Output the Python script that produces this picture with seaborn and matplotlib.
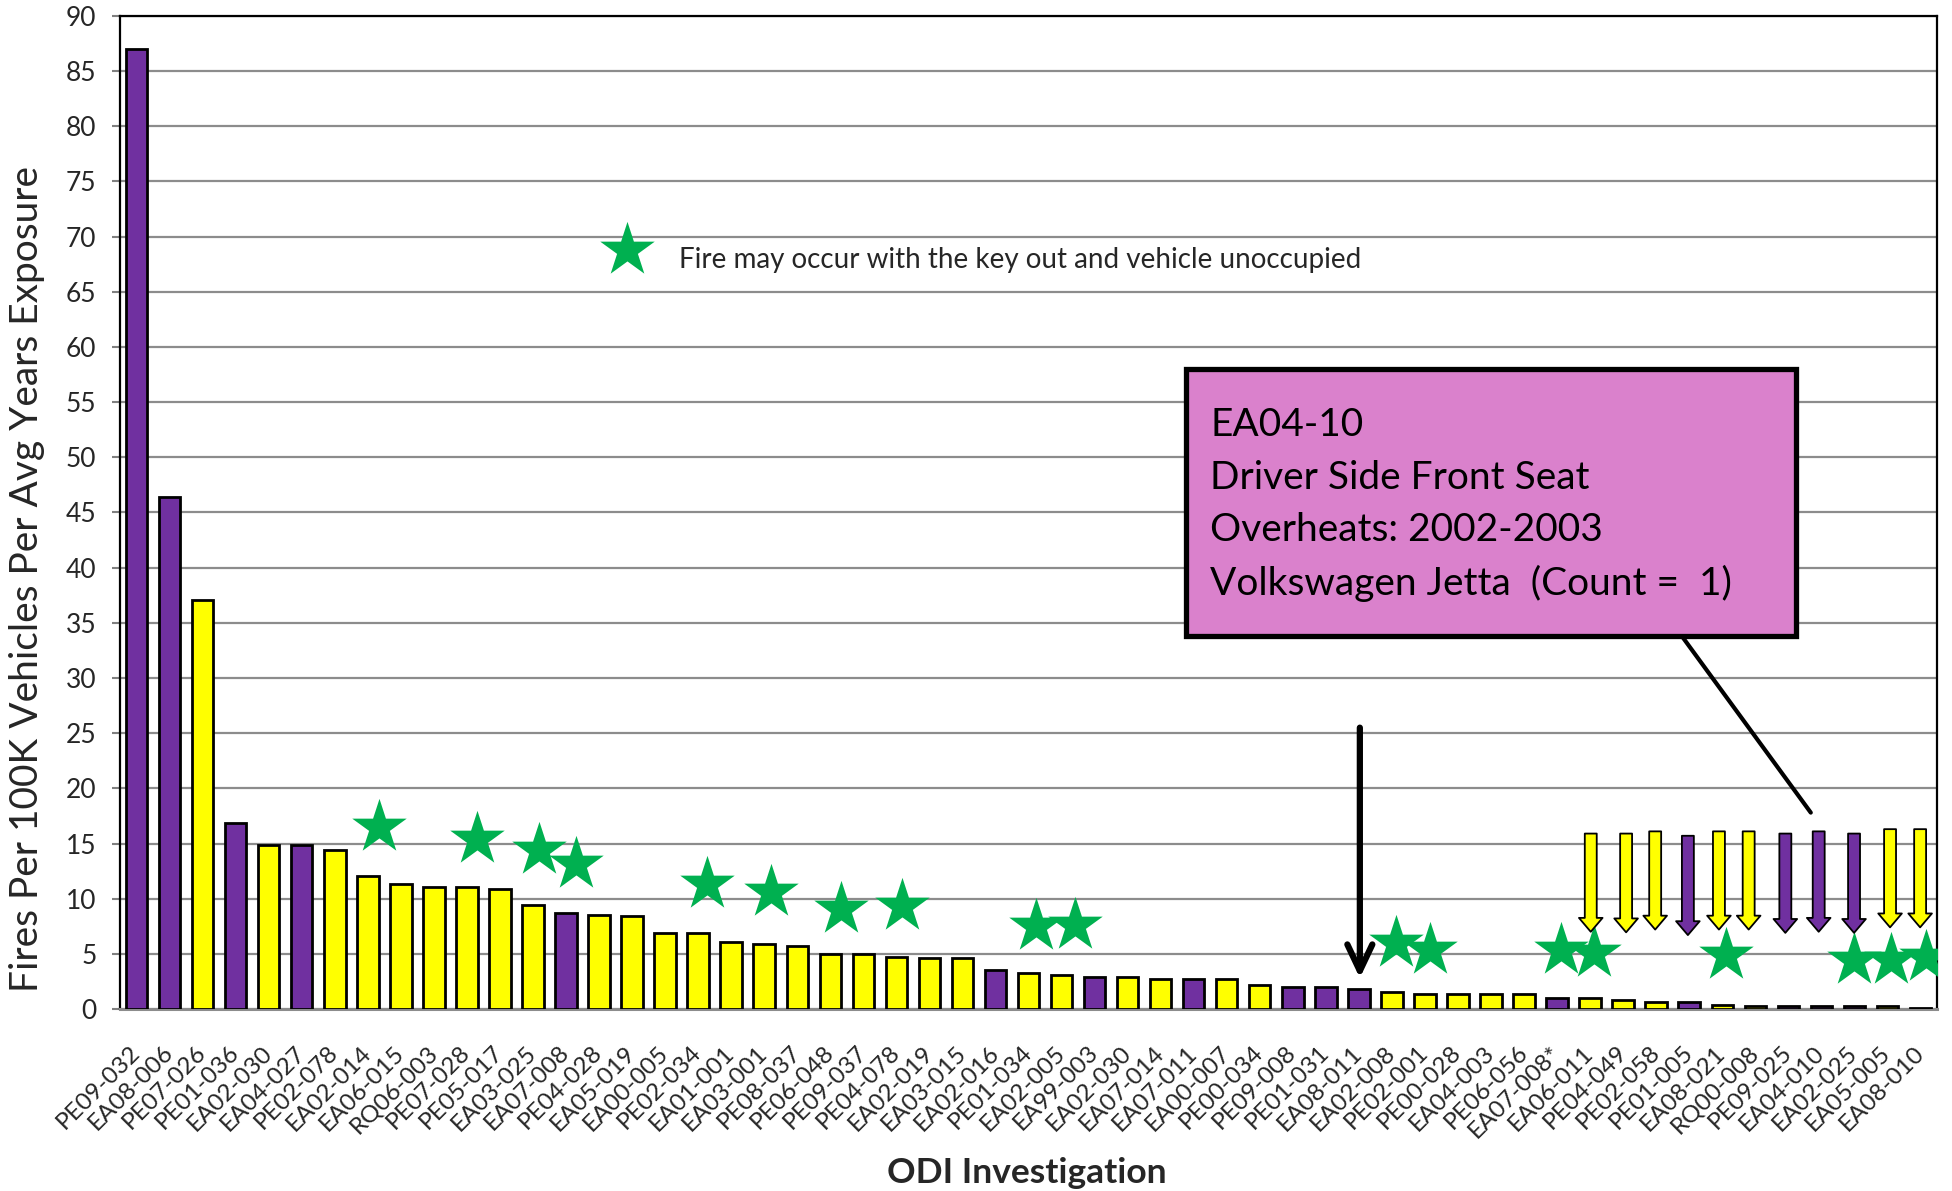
import numpy as np
import pandas as pd
import seaborn as sns
import matplotlib as mpl

mpl.use("Agg")

import matplotlib.pyplot as plt
from matplotlib.patches import Rectangle


investigations = [
    "PE09-032", "EA08-006", "PE07-026", "PE01-036", "EA02-030", "EA04-027",
    "PE02-078", "EA02-014", "EA06-015", "RQ06-003", "PE07-028", "PE05-017",
    "EA03-025", "EA07-008", "PE04-028", "EA05-019", "EA00-005", "PE02-034",
    "EA01-001", "EA03-001", "PE08-037", "PE06-048", "PE09-037", "PE04-078",
    "EA02-019", "EA03-015", "EA02-016", "PE01-034", "EA02-005", "EA99-003",
    "EA02-030", "EA07-014", "EA07-011", "EA00-007", "PE00-034", "PE09-008",
    "PE01-031", "EA08-011", "EA02-008", "PE02-001", "PE00-028", "EA04-003",
    "PE06-056", "EA07-008*", "EA06-011", "PE04-049", "PE02-058", "PE01-005",
    "EA08-021", "RQ00-008", "PE09-025", "EA04-010", "EA02-025", "EA05-005",
    "EA08-010",
]
fire_rates = [
    87.0, 46.4, 37.1, 16.9, 14.9, 14.9, 14.4, 12.1, 11.3, 11.1, 11.1, 10.9,
    9.4, 8.7, 8.5, 8.4, 6.9, 6.9, 6.05, 5.9, 5.7, 4.95, 4.95, 4.75,
    4.65, 4.65, 3.5, 3.25, 3.1, 2.9, 2.9, 2.75, 2.75, 2.75, 2.2, 2.0,
    2.0, 1.8, 1.55, 1.35, 1.35, 1.35, 1.35, 1.0, 1.0, 0.85, 0.65, 0.65,
    0.4, 0.27, 0.27, 0.27, 0.27, 0.27, 0.1,
]
# P = purple bars, Y = yellow bars
bar_groups = list("PPYPYPYYYYYYYPYYYYYYYYYYYYPYYPYYPYYPPPYYYYYPYYYPYYPPPYY")

# green stars: fire may occur with key out
star_x = [7.33, 10.31, 12.17, 13.3, 17.28, 19.21, 21.32, 23.18, 27.22, 28.41,
          38.11, 39.15, 43.12, 44.13, 48.11, 52.0, 53.1, 54.18]
star_y = [16.5, 15.4, 14.4, 13.1, 11.3, 10.6, 9.1, 9.3, 7.5, 7.6,
          5.95, 5.35, 5.35, 5.1, 4.9, 4.45, 4.45, 4.75]

# down arrows over the smallest bars
arrow_x = [44.02, 45.09, 45.97, 46.96, 47.90, 48.80, 49.91, 50.92, 51.99, 53.08, 53.99]
arrow_top = [15.9, 15.9, 16.1, 15.7, 16.1, 16.1, 15.9, 16.1, 15.9, 16.3, 16.3]
arrow_tip = [7.0, 6.95, 7.2, 6.7, 7.2, 7.2, 6.9, 7.0, 6.9, 7.4, 7.4]
arrow_groups = bar_groups[44:]

callout_lines = [
    "EA04-10",
    "Driver Side Front Seat",
    "Overheats: 2002-2003",
    "Volkswagen Jetta  (Count =  1)",
]
legend_text = "Fire may occur with the key out and vehicle unoccupied"

PURPLE = "#7030A0"
YELLOW = "#FFFF00"
GREEN = "#00B050"
PINK = "#DA81CC"
cores = {"P": PURPLE, "Y": YELLOW}
STAR_SIZE = 1700


def main() -> None:
    sns.set_theme(style="white")
    plt.rcParams["font.family"] = ["Lato", "DejaVu Sans"]

    fig = plt.figure(figsize=(19.52, 11.91), dpi=100)
    ax = fig.add_axes([0.0615, 0.1528, 0.9308, 0.8338])

    df = pd.DataFrame({
        "pos": np.arange(len(investigations)),
        "rate": fire_rates,
        "group": bar_groups,
    })
    sns.barplot(
        data=df, x="pos", y="rate", hue="group", palette=cores,
        native_scale=True, dodge=False, width=0.65, saturation=1,
        edgecolor="black", linewidth=2, legend=False, ax=ax, zorder=3,
    )

    ax.set_xlim(-0.5, len(investigations) - 0.5)
    ax.set_ylim(0, 90)
    ax.set_yticks(range(0, 91, 5))
    ax.set_xticks(df["pos"])
    ax.set_xticklabels(investigations, rotation=45, ha="right",
                       va="center", rotation_mode="anchor")
    ax.set_xlabel("")
    ax.set_ylabel("")

    ax.yaxis.grid(True, color="#8C8C8C", lw=1.6)
    ax.xaxis.grid(False)
    ax.set_axisbelow(True)
    for lado in ["top", "right", "left"]:
        ax.spines[lado].set_color("black")
        ax.spines[lado].set_linewidth(1.6)
    ax.spines["bottom"].set_color("#8C8C8C")
    ax.spines["bottom"].set_linewidth(2.2)

    ax.tick_params(axis="y", direction="out", left=True, length=6, width=1.5,
                   color="#808080", labelsize=19, pad=11)
    ax.tick_params(axis="x", length=0, labelsize=17.5, pad=29)

    # stars
    sns.scatterplot(x=star_x, y=star_y, marker="*", s=STAR_SIZE, color=GREEN,
                    linewidth=0, ax=ax, zorder=5)

    # down arrows
    for x, y0, y1, g in zip(arrow_x, arrow_top, arrow_tip, arrow_groups):
        ax.annotate(
            "", xy=(x, y1), xytext=(x, y0),
            arrowprops=dict(
                arrowstyle="simple,head_length=0.5,head_width=0.85,tail_width=0.43",
                mutation_scale=20, fc=cores[g], ec="black", lw=1.3,
                shrinkA=0, shrinkB=0,
            ),
            zorder=6,
        )

    # black arrow pointing at EA08-011
    ax.annotate(
        "", xy=(37.03, 2.8), xytext=(37.03, 25.5),
        arrowprops=dict(arrowstyle="->,head_length=0.95,head_width=0.45",
                        mutation_scale=20, color="black", lw=4.5,
                        shrinkA=0, shrinkB=0),
        zorder=6,
    )

    # callout box and leader line
    ax.annotate(
        "", xy=(50.68, 17.8), xytext=(46.8, 33.7),
        arrowprops=dict(arrowstyle="-", color="black", lw=3,
                        shrinkA=0, shrinkB=0),
        zorder=6,
    )
    fig.patches.append(Rectangle(
        (0.6076, 0.4660), 0.3125, 0.2242, transform=fig.transFigure,
        facecolor=PINK, edgecolor="black", lw=3.8, zorder=7,
    ))
    for linha, y in zip(callout_lines, [0.6432, 0.5987, 0.5550, 0.5105]):
        fig.text(0.6199, y, linha, fontsize=28, va="center", ha="left",
                 color="black", zorder=8)

    # legend
    ax.scatter([0.279], [0.7644], marker="*", s=STAR_SIZE, color=GREEN,
               linewidth=0, transform=ax.transAxes, zorder=5)
    ax.text(0.3079, 0.7462, legend_text, transform=ax.transAxes,
            fontsize=20, va="baseline", ha="left")

    fig.text(0.0138, 0.5139, "Fires Per 100K Vehicles Per Avg Years Exposure",
             rotation=90, fontsize=28, ha="center", va="center")
    fig.text(0.5261, 0.0151, "ODI Investigation", fontsize=25.5,
             fontweight="bold", ha="center", va="center")

    fig.savefig("out.png", dpi=100)
    plt.close(fig)


if __name__ == "__main__":
    main()
